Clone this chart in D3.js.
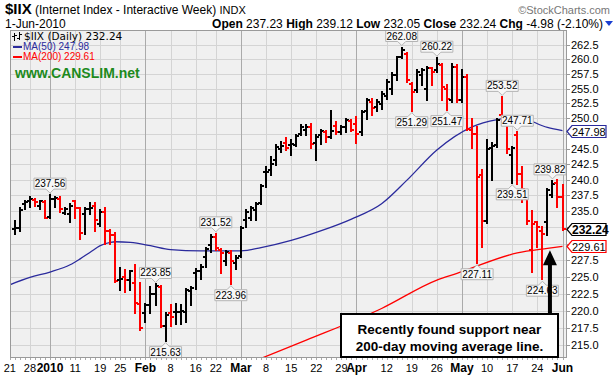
<!DOCTYPE html>
<html>
<head>
<meta charset="utf-8" />
<title>$IIX Daily</title>
<script src="https://cdn.jsdelivr.net/npm/d3@7/dist/d3.min.js"></script>
<style>
body { margin: 0; background: #fff; }
svg { display: block; font-family: Arial, "Liberation Sans", sans-serif; }
</style>
</head>
<body>
<svg id="chart" width="616" height="378"></svg>
<script>
// trading calendar
const holidays = ["2009-12-25", "2010-01-01", "2010-01-18", "2010-02-15", "2010-04-02", "2010-05-31"];
const firstDay = "2009-12-21";
const lastDay = "2010-06-01";

// daily bars, Dec 22 2009 .. Jun 1 2010
const opens = [232.2,232.4,236.1,236.6,236.8,235.9,236.5,234.1,237.0,237.0,234.7,234.6,236.6,235.5,234.6,235.3,235.9,233.1,234.9,232.0,
231.3,224.5,225.0,224.5,224.1,221.0,219.7,220.8,222.4,223.5,217.7,219.6,219.8,219.8,219.8,222.9,225.5,225.8,228.0,229.8,
231.1,229.1,227.4,228.6,227.0,228.2,233.6,233.9,235.2,236.3,241.2,241.5,243.1,245.0,245.9,245.6,245.6,247.5,248.0,248.5,
245.9,247.2,247.7,246.9,248.7,247.7,248.6,249.6,249.1,247.7,251.3,252.8,251.9,252.4,253.8,255.0,257.3,260.5,261.0,255.8,
254.7,257.3,255.0,258.5,258.2,259.0,255.0,253.0,258.7,253.0,257.0,248.0,247.5,240.7,233.5,245.1,245.6,250.5,249.1,244.0,
247.2,241.0,237.0,229.0,233.3,232.0,233.3,237.5,239.5,237.23];
const highs = [233.5,235.5,236.6,237.3,236.9,236.7,236.6,237.56,237.3,237.2,235.5,236.1,236.7,235.6,235.5,236.3,236.3,235.2,235.5,232.1,
231.6,226.3,226.0,225.9,226.7,224.1,221.0,223.5,223.85,223.6,219.6,220.8,221.0,220.8,223.2,223.5,226.1,226.7,229.4,231.3,
231.52,229.2,228.9,228.9,228.2,232.5,235.2,235.7,236.3,239.1,242.0,243.7,245.6,246.1,246.7,246.4,247.2,248.9,248.9,249.1,
247.2,248.0,247.9,251.2,249.4,248.7,249.9,249.8,250.3,251.3,253.3,253.3,253.1,254.4,256.4,257.6,260.5,262.08,261.2,255.9,
258.2,258.4,258.7,258.6,260.22,259.3,255.6,259.2,259.0,258.2,257.3,249.9,248.6,241.6,246.4,245.9,249.9,253.52,249.4,245.3,
247.71,242.0,237.5,235.0,233.4,232.5,238.5,239.82,239.9,239.12];
const lows = [231.5,232.0,235.4,235.7,235.8,235.4,233.9,234.0,235.7,234.9,234.6,233.3,234.0,230.8,231.5,234.6,232.0,232.8,230.0,230.0,
224.2,223.0,222.7,223.0,219.6,217.1,218.3,219.6,220.8,217.6,215.63,217.7,218.1,218.1,218.3,220.8,223.2,224.7,226.4,228.7,
229.1,225.6,226.7,223.96,226.2,228.0,232.5,233.6,233.6,236.1,238.8,240.7,242.3,244.5,244.8,244.0,245.4,247.2,247.2,245.1,
243.2,245.7,246.1,246.7,247.4,247.5,247.7,247.9,245.9,247.3,249.9,250.5,251.3,251.6,253.3,254.1,256.4,260.2,256.1,251.29,
254.4,255.6,253.0,255.6,257.9,253.0,251.47,252.7,252.7,252.7,248.0,245.1,227.11,229.5,233.2,239.9,245.3,249.4,244.3,239.51,
239.4,236.5,233.0,225.7,229.5,224.63,231.3,237.2,235.7,232.05];
const closes = [232.4,235.2,236.4,236.9,236.5,236.6,234.0,237.0,237.1,235.3,235.4,235.9,235.5,231.6,235.3,235.5,233.6,234.9,232.0,231.4,
224.3,224.6,224.5,225.8,221.1,217.4,220.8,222.4,223.6,217.7,219.3,219.1,219.8,219.9,223.0,223.3,225.9,226.5,229.2,231.0,
229.3,228.6,228.8,227.4,227.9,232.4,234.9,235.5,236.1,239.0,241.3,242.5,245.3,245.4,245.2,245.7,247.1,248.5,248.6,245.7,
247.0,247.9,246.9,247.9,247.8,248.5,249.7,248.1,247.5,251.0,253.0,251.8,252.8,254.1,256.1,257.3,260.4,261.6,256.4,254.4,
257.9,258.2,258.5,257.9,259.3,255.3,253.3,258.7,253.0,257.0,248.3,247.5,240.5,233.5,245.0,245.5,249.7,249.5,244.9,245.1,
240.9,238.5,233.5,233.0,232.5,231.5,238.4,239.3,237.22,232.24];

// moving averages
const ma50Dates = ["2009-12-21","2009-12-28","2010-01-04","2010-01-08","2010-01-12","2010-01-14","2010-01-19","2010-01-21","2010-01-22",
  "2010-01-27","2010-02-02","2010-02-08","2010-02-17","2010-03-01","2010-03-05","2010-03-15","2010-03-23","2010-03-31","2010-04-09",
  "2010-04-16","2010-04-26","2010-05-05","2010-05-12","2010-05-18","2010-05-26","2010-06-01"];
const ma50Values = [223.8,224.9,225.7,226.8,227.7,228.7,229.7,230.2,230.3,230.2,229.7,229.1,228.9,228.9,229.4,230.5,232.0,233.8,236.2,
  239.9,244.8,248.6,249.8,250.2,248.5,247.98];
const ma200Dates = ["2010-03-05","2010-03-18","2010-04-09","2010-04-26","2010-04-30","2010-05-18","2010-05-26","2010-06-01"];
const ma200Values = [213.1,215.7,220.3,224.5,225.5,228.6,229.3,229.61];

// high / low callouts
const calloutDates = ["2010-01-04","2010-02-03","2010-02-05","2010-02-22","2010-02-25","2010-04-15","2010-04-19","2010-04-26",
  "2010-04-28","2010-05-06","2010-05-13","2010-05-17","2010-05-18","2010-05-25","2010-05-27"];
const calloutValues = [237.56,223.85,215.63,231.52,223.96,262.08,251.29,260.22,251.47,227.11,253.52,239.51,247.71,224.63,239.82];
const calloutSides = ["up","up","down","up","down","up","down","up","down","down","up","down","up","down","up"];

// axis ticks
const tickDates = ["2009-12-21","2009-12-28","2010-01-04","2010-01-11","2010-01-19","2010-01-25","2010-02-01","2010-02-08",
  "2010-02-16","2010-02-22","2010-03-01","2010-03-08","2010-03-15","2010-03-22","2010-03-29","2010-04-01","2010-04-12",
  "2010-04-19","2010-04-26","2010-05-03","2010-05-10","2010-05-17","2010-05-24","2010-06-01"];
const tickLabels = ["21","28","2010","11","19","25","Feb","8","16","22","Mar","8","15","22","29","Apr","12","19","26",
  "May","10","17","24","Jun"];
const boldLabels = ["2010","Feb","Mar","Apr","May","Jun"];
const priceTicks = [215,217.5,220,222.5,225,227.5,230,232.5,235,237.5,240,242.5,245,247.5,250,252.5,255,257.5,260,262.5,265];

const lastClose = 232.24, lastMa50 = 247.98, lastMa200 = 229.61;

const svg = d3.select("#chart");
const frame = {left: 10, top: 30, right: 567, bottom: 357};

const parse = d3.utcParse("%Y-%m-%d"), fmt = d3.utcFormat("%Y-%m-%d");
const tradingDays = d3.utcDays(parse(firstDay), d3.utcDay.offset(parse(lastDay), 1))
  .filter(d => d.getUTCDay() != 0 && d.getUTCDay() != 6)
  .map(fmt)
  .filter(s => !holidays.includes(s));
const barDates = tradingDays.slice(1);

const x = d3.scalePoint().domain(tradingDays).range([9.8, 562.5]);
const y = d3.scaleLog().domain([213.3, 265.15]).range([frame.bottom, frame.top]);

const RED = "#ff0000", BLUE = "#2a2a9c";

// ---- header
const h1 = svg.append("text").attr("x", 5).attr("y", 14).attr("font-size", 12);
h1.append("tspan").attr("font-weight", "bold").attr("font-size", 15).text("$IIX");
h1.append("tspan").text(" (Internet Index - Interactive Week) ");
h1.append("tspan").attr("font-size", 11).text("INDX");
svg.append("text").attr("x", 610).attr("y", 14).attr("text-anchor", "end")
  .attr("font-size", 11).attr("fill", "#777").text("\u00a9StockCharts.com");
svg.append("text").attr("x", 5).attr("y", 28).attr("font-size", 12).text("1-Jun-2010");
const h2 = svg.append("text").attr("x", 603).attr("y", 28).attr("text-anchor", "end").attr("font-size", 12);
[["Open", "237.23"], ["High", "239.12"], ["Low", "232.05"], ["Close", "232.24"], ["Chg", "-4.98 (-2.10%)"]].forEach((p, i) => {
  h2.append("tspan").attr("font-weight", "bold").text((i ? "  " : "") + p[0]);
  h2.append("tspan").text(" " + p[1]);
});
svg.append("path").attr("d", "M605,21 L613,21 L609,26 Z").attr("fill", "#1a3fd0");

// ---- plot background and grid
svg.append("rect").attr("x", frame.left).attr("y", frame.top)
  .attr("width", frame.right - frame.left).attr("height", frame.bottom - frame.top)
  .attr("fill", "#f0f0f0");

svg.append("defs").append("clipPath").attr("id", "clip").append("rect")
  .attr("x", frame.left).attr("y", frame.top)
  .attr("width", frame.right - frame.left).attr("height", frame.bottom - frame.top);

const grid = svg.append("g").attr("shape-rendering", "crispEdges");
grid.selectAll("line.h").data(priceTicks.filter(v => y(v) > frame.top + 1)).join("line")
  .attr("x1", frame.left).attr("x2", frame.right)
  .attr("y1", d => Math.round(y(d)) + 0.5).attr("y2", d => Math.round(y(d)) + 0.5)
  .attr("stroke", "#d4d4d4");
grid.selectAll("line.v").data(tickDates.map((d, i) => [d, tickLabels[i]]).filter(d => x(d[0]) > frame.left + 1)).join("line")
  .attr("x1", d => Math.round(x(d[0])) + 0.5).attr("x2", d => Math.round(x(d[0])) + 0.5)
  .attr("y1", frame.top).attr("y2", frame.bottom)
  .attr("stroke", d => boldLabels.includes(d[1]) ? "#aaaaaa" : "#d4d4d4");

const plot = svg.append("g").attr("clip-path", "url(#clip)");

// ---- moving averages
const maLine = d3.line().x(d => x(d[0])).y(d => y(d[1])).curve(d3.curveMonotoneX);
plot.append("path").attr("d", maLine(ma200Dates.map((d, i) => [d, ma200Values[i]])))
  .attr("fill", "none").attr("stroke", RED).attr("stroke-width", 1.3);
plot.append("path").attr("d", maLine(ma50Dates.map((d, i) => [d, ma50Values[i]])))
  .attr("fill", "none").attr("stroke", BLUE).attr("stroke-width", 1.3);

// ---- OHLC bars
const bars = plot.append("g").attr("shape-rendering", "crispEdges")
  .selectAll("g").data(d3.range(closes.length)).join("g")
  .attr("stroke", i => (i > 0 && closes[i] < closes[i - 1]) ? RED : "#000")
  .attr("stroke-width", 2);
const bx = i => Math.round(x(barDates[i]));
bars.append("line").attr("x1", bx).attr("x2", bx)
  .attr("y1", i => y(highs[i]) - 1).attr("y2", i => y(lows[i]) + 1);
bars.append("line").attr("x1", i => bx(i) - 3).attr("x2", bx)
  .attr("y1", i => y(opens[i])).attr("y2", i => y(opens[i]));
bars.append("line").attr("x1", bx).attr("x2", i => bx(i) + 3)
  .attr("y1", i => y(closes[i])).attr("y2", i => y(closes[i]));

// ---- callouts
const callouts = svg.append("g").attr("font-size", 10);
calloutDates.forEach((d, i) => {
  const cx = x(d), cy = y(calloutValues[i]);
  const txt = calloutValues[i].toFixed(2);
  const w = 32, h = 11;
  const up = calloutSides[i] == "up";
  const tipY = up ? cy - 2 : cy + 2;
  const edge = up ? tipY - 4 : tipY + 4;
  const far = up ? edge - h : edge + h;
  // keep the box inside the plot frame
  const bl = Math.min(cx - w / 2, frame.right - 1 - w), br = bl + w;
  const path = `M${bl},${edge} L${cx - 4},${edge} L${cx},${tipY} L${cx + 4},${edge} L${br},${edge} L${br},${far} L${bl},${far} Z`;
  callouts.append("path").attr("d", path).attr("fill", "#f7f7f7").attr("stroke", "#b4b4b4");
  callouts.append("text").attr("x", (bl + br) / 2).attr("y", (edge + far) / 2 + 3.5)
    .attr("text-anchor", "middle").text(txt);
});

// ---- legend
const lg = svg.append("g");
const icon = lg.append("g").attr("stroke", "#000").attr("stroke-width", 1).attr("shape-rendering", "crispEdges");
icon.append("path").attr("d", "M14.5,33 V41 M12,36.5 H14.5 M14.5,35.5 H17 M19.5,32 V40 M17,38.5 H19.5 M19.5,34.5 H22").attr("fill", "none");
lg.append("text").attr("x", 24).attr("y", 40).attr("font-size", 10.5).attr("font-family", "'DejaVu Sans', sans-serif")
  .text("$IIX (Daily) 232.24");
lg.append("line").attr("x1", 13).attr("x2", 22).attr("y1", 47).attr("y2", 47).attr("stroke", BLUE).attr("stroke-width", 2);
lg.append("text").attr("x", 23).attr("y", 50).attr("font-size", 10).attr("fill", BLUE).text("MA(50) " + lastMa50.toFixed(2));
lg.append("line").attr("x1", 13).attr("x2", 22).attr("y1", 57).attr("y2", 57).attr("stroke", RED).attr("stroke-width", 2);
lg.append("text").attr("x", 23).attr("y", 60).attr("font-size", 10).attr("fill", RED).text("MA(200) " + lastMa200.toFixed(2));
lg.append("text").attr("x", 15).attr("y", 78).attr("font-size", 14).attr("font-weight", "bold")
  .attr("fill", "#1d8a1d").text("www.CANSLIM.net");

// ---- frame
svg.append("rect").attr("x", frame.left + 0.5).attr("y", frame.top + 0.5)
  .attr("width", frame.right - frame.left - 1).attr("height", frame.bottom - frame.top)
  .attr("fill", "none").attr("stroke", "#9a9a9a").attr("shape-rendering", "crispEdges");

// ---- right price axis
const tags = [lastMa50, lastClose, lastMa200];
const ra = svg.append("g").attr("font-size", 11);
ra.selectAll("line").data(priceTicks.filter(v => y(v) > frame.top + 1)).join("line")
  .attr("x1", frame.right).attr("x2", frame.right + 3)
  .attr("y1", d => Math.round(y(d)) + 0.5).attr("y2", d => Math.round(y(d)) + 0.5)
  .attr("stroke", "#999").attr("shape-rendering", "crispEdges");
ra.selectAll("text").data(priceTicks.filter(v => y(v) > frame.top + 6 && tags.every(t => Math.abs(y(t) - y(v)) > 8)))
  .join("text").attr("x", 571).attr("y", d => y(d) + 4).text(d => d.toFixed(1));

[[lastMa50, BLUE, "normal"], [lastClose, "#000", "bold"], [lastMa200, RED, "normal"]].forEach(t => {
  const ty = Math.round(y(t[0])) + 0.5;
  ra.append("path").attr("d", `M${frame.right},${ty} L${frame.right + 5},${ty - 6} L606,${ty - 6} L606,${ty + 6} L${frame.right + 5},${ty + 6} Z`)
    .attr("fill", "#fff").attr("stroke", t[1]).attr("stroke-width", 1.2);
  ra.append("text").attr("x", 572).attr("y", ty + 4).attr("font-weight", t[2]).attr("font-size", t[2] == "bold" ? 12 : 11)
    .text(t[0].toFixed(2));
});

// ---- bottom date axis
const ba = svg.append("g");
ba.selectAll("line").data(tradingDays).join("line")
  .attr("x1", d => Math.round(x(d)) + 0.5).attr("x2", d => Math.round(x(d)) + 0.5)
  .attr("y1", frame.bottom + 1).attr("y2", frame.bottom + 3)
  .attr("stroke", "#aaa").attr("shape-rendering", "crispEdges");
ba.selectAll("text").data(tickDates.map((d, i) => [d, tickLabels[i]])).join("text")
  .attr("x", d => x(d[0])).attr("y", 372).attr("text-anchor", "middle")
  .attr("font-size", d => boldLabels.includes(d[1]) ? 12 : 11)
  .attr("font-weight", d => boldLabels.includes(d[1]) ? "bold" : "normal")
  .text(d => d[1]);

// ---- annotation
const note = svg.append("g");
const ax = (x("2010-05-26") + x("2010-05-27")) / 2, tipV = 229.0;
const tip = y(tipV);
note.append("path")
  .attr("d", `M${ax},${tip} L${ax + 7},${tip + 15} L${ax + 2},${tip + 15} L${ax + 2},314 L${ax - 2},314 L${ax - 2},${tip + 15} L${ax - 7},${tip + 15} Z`)
  .attr("fill", "#000");
note.append("rect").attr("x", 341).attr("y", 314).attr("width", 217).attr("height", 43)
  .attr("fill", "#fff").attr("stroke", "#000").attr("stroke-width", 2);
note.append("text").attr("x", 449.5).attr("y", 334).attr("text-anchor", "middle")
  .attr("font-size", 13.5).attr("font-weight", "bold").text("Recently found support near");
note.append("text").attr("x", 449.5).attr("y", 351).attr("text-anchor", "middle")
  .attr("font-size", 13.5).attr("font-weight", "bold").text("200-day moving average line.");
</script>
</body>
</html>
